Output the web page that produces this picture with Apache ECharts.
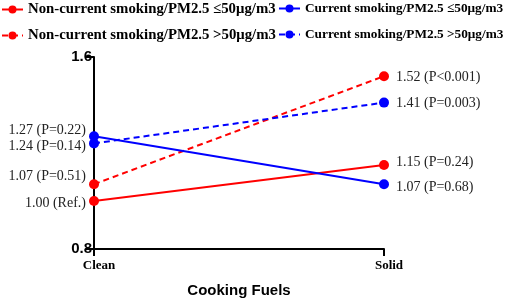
<!DOCTYPE html>
<html>
<head>
<meta charset="utf-8">
<script src="https://cdn.jsdelivr.net/npm/echarts@6/dist/echarts.min.js"></script>
<style>
body { margin: 0; background: #fff; }
#chart { width: 510px; height: 302px; }
</style>
</head>
<body>
<div id="chart"></div>
<script>
/* 数据 */
var categories = ['Clean', 'Solid'];
var seriesNames = [
	'Non-current smoking/PM2.5 \u226450\u03bcg/m3',
	'Current smoking/PM2.5 \u226450\u03bcg/m3',
	'Non-current smoking/PM2.5 >50\u03bcg/m3',
	'Current smoking/PM2.5 >50\u03bcg/m3'
];
var nonSmokeLow = [1.00, 1.15];
var smokeLow = [1.27, 1.07];
var nonSmokeHigh = [1.07, 1.52];
var smokeHigh = [1.24, 1.41];
var pNonSmokeLow = ['Ref.', 'P=0.24'];
var pSmokeLow = ['P=0.22', 'P=0.68'];
var pNonSmokeHigh = ['P=0.51', 'P<0.001'];
var pSmokeHigh = ['P=0.14', 'P=0.003'];
var yTicks = [0.8, 1.6];

var red = '#ff0000';
var blue = '#0000ff';
var serif = '"Liberation Serif", "Times New Roman", serif';
var sans = '"Liberation Sans", Arial, sans-serif';

function mkSeries(name, vals, ps, color, dashed, offs) {
	return {
		name : name,
		type : 'line',
		data : vals.map(function(v, i) {
			return {
				value : v,
				label : {
					show : true,
					position : i == 0 ? 'left' : 'right',
					distance : i == 0 ? 3 : 7,
					offset : [0, offs[i]],
					formatter : v.toFixed(2) + ' (' + ps[i] + ')'
				}
			};
		}),
		symbol : 'circle',
		symbolSize : 10,
		color : color,
		lineStyle : { width : 2, type : dashed ? [6, 4] : 'solid' },
		label : { color : '#222', fontFamily : serif, fontSize : 14 },
		z : dashed ? 2 : 3
	};
}

function mkLegend(i, left, top, size) {
	return {
		data : [seriesNames[i]],
		left : left,
		top : top,
		padding : 0,
		itemWidth : 21,
		itemHeight : 10,
		itemGap : 0,
		textStyle : { fontFamily : serif, fontWeight : 'bold', fontSize : size, color : '#000' }
	};
}

var chart = echarts.init(document.getElementById('chart'));
chart.setOption({
	animation : false,
	backgroundColor : '#fff',
	legend : [
		mkLegend(0, 1, 2, 14.8),
		mkLegend(1, 278, 2, 13.3),
		mkLegend(2, 1, 28, 14.8),
		mkLegend(3, 278, 28, 13.3)
	],
	grid : { left : 94, right : 126, top : 57, bottom : 53, outerBoundsMode : 'none' },
	xAxis : {
		type : 'category',
		data : categories,
		boundaryGap : false,
		name : 'Cooking Fuels',
		nameLocation : 'middle',
		nameGap : 34,
		nameTextStyle : { fontFamily : sans, fontWeight : 'bold', fontSize : 15, color : '#000' },
		axisLine : { lineStyle : { color : '#000', width : 2 } },
		axisTick : { show : true, length : 7, lineStyle : { color : '#000', width : 2 } },
		axisLabel : { fontFamily : serif, fontWeight : 'bold', fontSize : 13, color : '#000', margin : 10, padding : [0, 0, 0, 10] }
	},
	yAxis : {
		type : 'value',
		min : yTicks[0],
		max : yTicks[1],
		interval : yTicks[1] - yTicks[0],
		splitLine : { show : false },
		axisLine : { show : true, lineStyle : { color : '#000', width : 2 } },
		axisTick : { show : true, length : 8, lineStyle : { color : '#000', width : 2 } },
		axisLabel : {
			fontFamily : sans, fontWeight : 'bold', fontSize : 15, color : '#000', margin : 2,
			formatter : function(v) { return v.toFixed(1); }
		}
	},
	series : [
		mkSeries(seriesNames[0], nonSmokeLow, pNonSmokeLow, red, false, [2, -3]),
		mkSeries(seriesNames[1], smokeLow, pSmokeLow, blue, false, [-6, 3]),
		mkSeries(seriesNames[2], nonSmokeHigh, pNonSmokeHigh, red, true, [-8, 1]),
		mkSeries(seriesNames[3], smokeHigh, pSmokeHigh, blue, true, [3, 1])
	]
});
</script>
</body>
</html>
